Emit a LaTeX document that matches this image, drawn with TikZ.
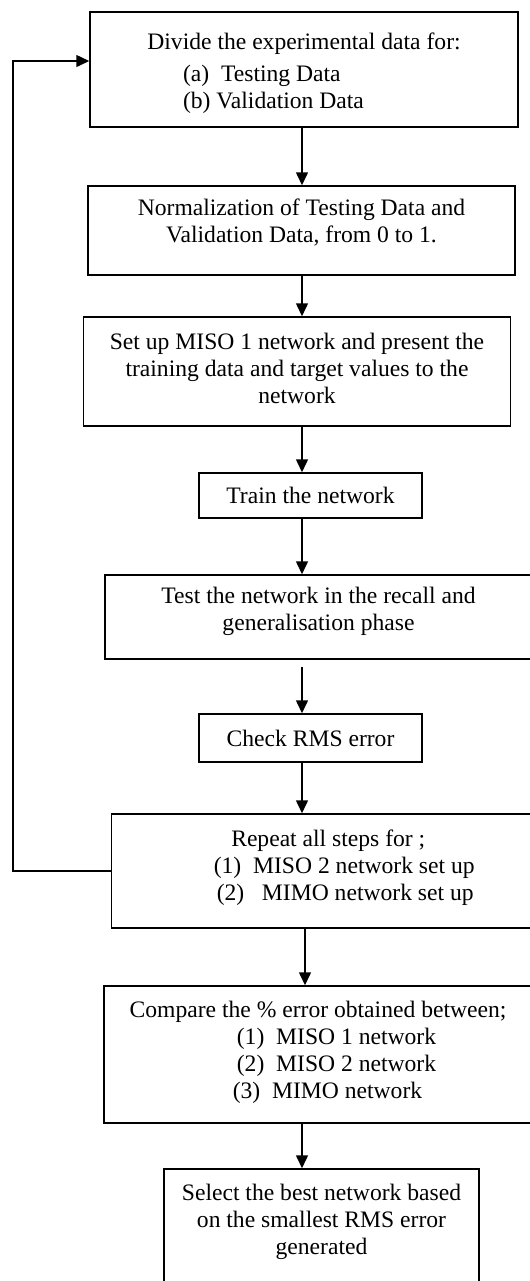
\documentclass[tikz,border=0pt]{standalone}
\usepackage{fontspec}
\setmainfont{Liberation Serif}
\usetikzlibrary{arrows.meta}
% extra depth under the last line, pushes the text up in its box
\newcommand{\textlift}[1]{\rule[-#1]{0pt}{#1}}
\begin{document}
\begin{tikzpicture}[x=0.5pt,y=-0.5pt,
  box/.style={draw,line width=0.75pt,align=center,inner sep=0pt,
    font=\fontsize{11.8pt}{13.5pt}\selectfont},
  flow/.style={line width=0.75pt,-{Triangle[length=6.5pt,width=6pt]}}]
\useasboundingbox (0,0) rectangle (530,1281);
%\draw[step=50,gray,very thin] (0,0) grid (530,1281); %background grid
\node[box,minimum width=214pt,minimum height=57.5pt] (b1) at (304,69.5)
  {\rule{0pt}{14pt}Divide the experimental data for:\\[2.5pt]
   \begin{tabular}[t]{@{}l@{}}(a)\ \ Testing Data\\(b) Validation Data\end{tabular}\hspace*{30.5pt}};
\node[box,minimum width=213.5pt,minimum height=44.5pt] (b2) at (301.5,230.5)
  {Normalization of Testing Data and\\Validation Data, from 0 to 1.\textlift{10pt}};
\node[box,minimum width=213.5pt,minimum height=54.5pt] (b3) at (297,371.5)
  {Set up MISO 1 network and present the\\training data and target values to the\\network\textlift{3.5pt}};
\node[box,minimum width=111.5pt,minimum height=22.5pt] (b4) at (310.5,495.5)
  {Train the network};
\node[box,minimum width=213.5pt,minimum height=42pt] (b5) at (318.5,617)
  {Test the network in the recall and\\generalisation phase\textlift{8pt}};
\node[box,minimum width=111.5pt,minimum height=24pt] (b6) at (310.5,738)
  {Check RMS error};
\node[box,minimum width=216.75pt,minimum height=57pt] (b7) at (328.25,871)
  {Repeat all steps for ;\\
   \hspace*{16pt}(1)\ \ MISO 2 network set up\\
   \hspace*{17pt}(2)\ \ \ MIMO network set up\textlift{6pt}};
\node[box,minimum width=214pt,minimum height=68.5pt] (b8) at (318,1054.5)
  {Compare the \% error obtained between;\\
   \hspace*{18.5pt}(1)\ \ MISO 1 network\\
   \hspace*{18.5pt}(2)\ \ MISO 2 network\\
   \hspace*{9.5pt}(3)\ \ MIMO network\textlift{5pt}};
\node[box,minimum width=157.5pt,minimum height=63pt] (b9) at (321.5,1232)
  {Select the best network based\\on the smallest RMS error\\generated\textlift{12.5pt}};
% arrows
\coordinate (axis) at (302,0);
\draw[flow] (b1.south -| axis) -- (b2.north -| axis);
\draw[flow] (b2.south -| axis) -- (b3.north -| axis);
\draw[flow] (b3.south -| axis) -- (b4.north -| axis);
\draw[flow] (b4.south -| axis) -- (b5.north -| axis);
\draw[flow,shorten <=3.5pt] (b5.south -| axis) -- (b6.north -| axis);
\draw[flow] (b6.south -| axis) -- (b7.north -| axis);
\draw[flow] ([xshift=1.5pt]b7.south -| axis) -- ([xshift=1.5pt]b8.north -| axis);
\draw[flow] (b8.south -| axis) -- (b9.north -| axis);
% loop back
\coordinate (back) at (13,61);
\draw[flow] (b7.west) -| (back) -- (back -| b1.west);
\end{tikzpicture}
\end{document}
